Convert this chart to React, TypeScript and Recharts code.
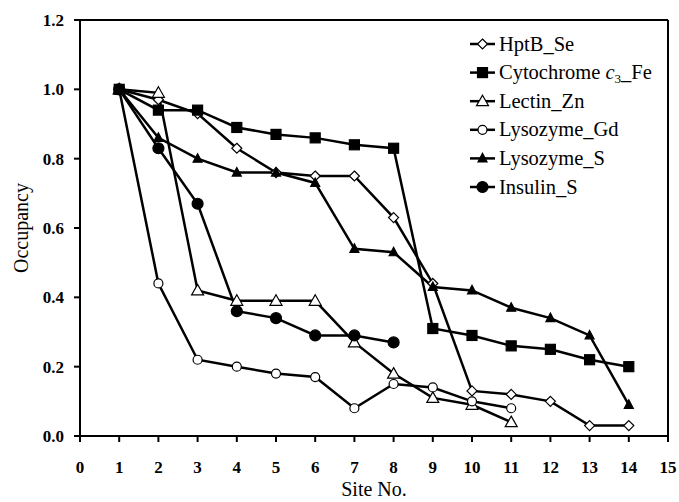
import React from 'react';
import {
  LineChart, Line, XAxis, YAxis, ReferenceLine,
} from 'recharts';

const sites = [1, 2, 3, 4, 5, 6, 7, 8, 9, 10, 11, 12, 13, 14];
const hptbSe = [1.0, 0.97, 0.93, 0.83, 0.76, 0.75, 0.75, 0.63, 0.44, 0.13, 0.12, 0.10, 0.03, 0.03];
const cytochromeFe = [1.0, 0.94, 0.94, 0.89, 0.87, 0.86, 0.84, 0.83, 0.31, 0.29, 0.26, 0.25, 0.22, 0.20];
const lectinZn = [1.0, 0.99, 0.42, 0.39, 0.39, 0.39, 0.27, 0.18, 0.11, 0.09, 0.04];
const lysozymeGd = [1.0, 0.44, 0.22, 0.20, 0.18, 0.17, 0.08, 0.15, 0.14, 0.10, 0.08];
const lysozymeS = [1.0, 0.86, 0.80, 0.76, 0.76, 0.73, 0.54, 0.53, 0.43, 0.42, 0.37, 0.34, 0.29, 0.09];
const insulinS = [1.0, 0.83, 0.67, 0.36, 0.34, 0.29, 0.29, 0.27];

const xTicks = [0, 1, 2, 3, 4, 5, 6, 7, 8, 9, 10, 11, 12, 13, 14, 15];
const yTicks = [0, 0.2, 0.4, 0.6, 0.8, 1.0, 1.2];

type Shape = 'diamond' | 'square' | 'triangle' | 'circle' | 'smalltri';

interface SeriesDef {
  key: string;
  values: number[];
  shape: Shape;
  filled: boolean;
}

const SERIES: SeriesDef[] = [
  { key: 'hptb', values: hptbSe, shape: 'diamond', filled: false },
  { key: 'cyto', values: cytochromeFe, shape: 'square', filled: true },
  { key: 'lectin', values: lectinZn, shape: 'triangle', filled: false },
  { key: 'lysoGd', values: lysozymeGd, shape: 'circle', filled: false },
  { key: 'lysoS', values: lysozymeS, shape: 'smalltri', filled: true },
  { key: 'insulin', values: insulinS, shape: 'circle', filled: true },
];

const data = sites.map((s, i) => {
  const row: Record<string, number | undefined> = { site: s };
  SERIES.forEach(sr => { row[sr.key] = sr.values[i]; });
  return row;
});

const FONT = "'Liberation Serif', 'Times New Roman', serif";

const Marker = ({ x, y, shape, filled }: { x: number; y: number; shape: Shape; filled: boolean }) => {
  const fill = filled ? '#000' : '#fff';
  const common = { fill, stroke: '#000', strokeWidth: 1.2 };
  switch (shape) {
    case 'diamond':
      return <polygon points={`${x},${y - 5} ${x + 5},${y} ${x},${y + 5} ${x - 5},${y}`} {...common} />;
    case 'square':
      return <rect x={x - 5} y={y - 5} width={10} height={10} {...common} />;
    case 'triangle':
      return <polygon points={`${x},${y - 6} ${x + 6},${y + 4.5} ${x - 6},${y + 4.5}`} {...common} />;
    case 'smalltri':
      return <polygon points={`${x},${y - 5} ${x + 4.5},${y + 3.5} ${x - 4.5},${y + 3.5}`} {...common} />;
    default:
      return <circle cx={x} cy={y} r={filled ? 5.5 : 4.5} {...common} />;
  }
};

const makeDot = (shape: Shape, filled: boolean) => (props: any) => {
  const { cx, cy, value, index } = props;
  if (value == null || cx == null || cy == null) return <g key={index} />;
  return <Marker key={index} x={cx} y={cy} shape={shape} filled={filled} />;
};

const LEGEND_LABELS: React.ReactNode[] = [
  'HptB_Se',
  <>Cytochrome <tspan fontStyle="italic">c</tspan><tspan fontSize={13} dy={4}>3</tspan><tspan dy={-4}>_Fe</tspan></>,
  'Lectin_Zn',
  'Lysozyme_Gd',
  'Lysozyme_S',
  'Insulin_S',
];

const LegendBox = () => (
  <svg width={210} height={175} style={{ display: 'block' }}>
    {SERIES.map((s, i) => {
      const y = 14 + i * 28.6;
      return (
        <g key={s.key}>
          <line x1={8} x2={33} y1={y} y2={y} stroke="#000" strokeWidth={2.5} />
          <Marker x={20.5} y={y} shape={s.shape} filled={s.filled} />
          <text x={37} y={y + 6.5} style={{ fontFamily: FONT, fontSize: 20.5 }} fill="#000">{LEGEND_LABELS[i]}</text>
        </g>
      );
    })}
  </svg>
);

export default function App() {
  return (
    <div style={{ position: 'absolute', left: 0, top: 0, width: 679, height: 502, background: '#fff' }}>
      <LineChart
        width={679}
        height={502}
        data={data}
        margin={{ top: 20, right: 11, left: 20, bottom: 36 }}
      >
        <XAxis
          dataKey="site"
          type="number"
          domain={[0, 15]}
          ticks={xTicks}
          interval={0}
          allowDecimals={false}
          height={30}
          stroke="#000"
          strokeWidth={2}
          tickSize={6}
          tickMargin={19}
          tickLine={{ stroke: '#000', strokeWidth: 2 }}
          tick={{ fill: '#000', fontFamily: FONT, fontSize: 17, fontWeight: 'bold' }}
          label={{ value: 'Site No.', position: 'insideBottom', offset: -30, fill: '#000', fontFamily: FONT, fontSize: 20 }}
        />
        <YAxis
          type="number"
          domain={[0, 1.2]}
          ticks={yTicks}
          interval={0}
          width={60}
          stroke="#000"
          strokeWidth={2}
          tickSize={6}
          tickMargin={10}
          tickLine={{ stroke: '#000', strokeWidth: 2 }}
          tickFormatter={(v: number) => v.toFixed(1)}
          tick={{ fill: '#000', fontFamily: FONT, fontSize: 17, fontWeight: 'bold' }}
          label={{ value: 'Occupancy', angle: -90, position: 'insideLeft', offset: 1, style: { textAnchor: 'middle' }, fill: '#000', fontFamily: FONT, fontSize: 20 }}
        />
        <ReferenceLine y={1.2} stroke="#000" strokeWidth={2} />
        <ReferenceLine x={15} stroke="#000" strokeWidth={2} />
        {SERIES.map(s => (
          <Line
            key={s.key}
            dataKey={s.key}
            stroke="#000"
            strokeWidth={2.5}
            connectNulls={false}
            isAnimationActive={false}
            dot={makeDot(s.shape, s.filled)}
            activeDot={false}
          />
        ))}
      </LineChart>
      <div style={{ position: 'absolute', left: 462, top: 30 }}>
        <LegendBox />
      </div>
    </div>
  );
}
